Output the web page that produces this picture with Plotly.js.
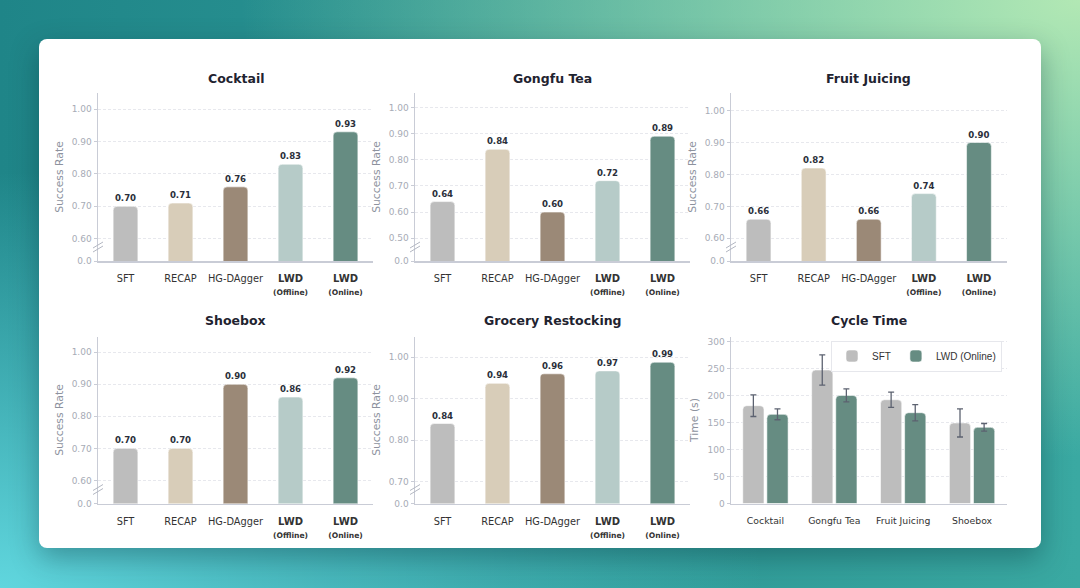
<!DOCTYPE html>
<html>
<head>
<meta charset="utf-8">
<script src="https://cdn.plot.ly/plotly-3.0.1.min.js"></script>
<style>
  html, body { margin: 0; padding: 0; }
  body {
    width: 1080px; height: 588px; overflow: hidden; position: relative;
    background:
      radial-gradient(ellipse at 100% 0%, rgba(178,232,180,1) 0%, rgba(178,232,180,0) 55%),
      radial-gradient(ellipse at 0% 100%, rgba(96,214,222,1) 0%, rgba(96,214,222,0) 50%),
      linear-gradient(90deg, #1f8588 0%, #3aa9a2 100%);
  }
  #card {
    position: absolute; left: 39px; top: 39px; width: 1002px; height: 509px;
    background: #fff; border-radius: 8px;
    box-shadow: 0 10px 28px rgba(0,40,50,0.35);
  }
  #chart { position: absolute; left: 0; top: 0; width: 1080px; height: 588px; }
</style>
</head>
<body>
<div id="card"></div>
<div id="chart"></div>
<script>
// success-rate panels
const methods = ['SFT', 'RECAP', 'HG-DAgger', 'LWD (Offline)', 'LWD (Online)'];
const cocktail = [0.70, 0.71, 0.76, 0.83, 0.93];
const gongfuTea = [0.64, 0.84, 0.60, 0.72, 0.89];
const fruitJuicing = [0.66, 0.82, 0.66, 0.74, 0.90];
const shoebox = [0.70, 0.70, 0.90, 0.86, 0.92];
const groceryRestocking = [0.84, 0.937, 0.96, 0.967, 0.988];

const ticks060 = [0.60, 0.70, 0.80, 0.90, 1.00];
const ticks050 = [0.50, 0.60, 0.70, 0.80, 0.90, 1.00];
const ticks070 = [0.70, 0.80, 0.90, 1.00];

// cycle time panel
const cycleTasks = ['Cocktail', 'Gongfu Tea', 'Fruit Juicing', 'Shoebox'];
const sftTime = [181, 247, 192, 149];
const sftTimeErr = [20, 28, 14, 26];
const lwdTime = [165, 200, 168, 141];
const lwdTimeErr = [10, 12, 15, 7];

const methodColors = ['#bdbdbd', '#d8cdb9', '#9b8977', '#b6cbc8', '#668c82'];

const methodTicks = methods.map(function (m) {
  const i = m.indexOf(' (');
  if (i < 0) return m;
  return '<span style="font-size:10px"><b>' + m.slice(0, i) + '</b></span><br>' +
         '<span style="font-size:7.6px"><b>' + m.slice(i + 1) + '</b></span>';
});

const FONT = 'DejaVu Sans, Verdana, sans-serif';
const W = 1080, H = 588;
const colX = [[98, 373], [415, 690], [731, 1006.5]];
const rowY = [[93, 261], [336.5, 503.5]];
const px = function (a) { return [a[0] / W, a[1] / W]; };
const py = function (a) { return [1 - a[1] / H, 1 - a[0] / H]; };

const panels = [
  { title: 'Cocktail', values: cocktail, ticks: ticks060, range: [0.531, 1.05], col: 0, row: 0 },
  { title: 'Gongfu Tea', values: gongfuTea, ticks: ticks050, range: [0.413, 1.055], col: 1, row: 0 },
  { title: 'Fruit Juicing', values: fruitJuicing, ticks: ticks060, range: [0.529, 1.055], col: 2, row: 0 },
  { title: 'Shoebox', values: shoebox, ticks: ticks060, range: [0.528, 1.049], col: 0, row: 1 },
  { title: 'Grocery Restocking', values: groceryRestocking, ticks: ticks070, range: [0.647, 1.05], col: 1, row: 1 }
];

const axisLine = '#c9ccd6';
const tickGray = '#a7abb6';
const titleGray = '#8d929e';

const data = [];
const layout = {
  width: W, height: H,
  margin: { l: 0, r: 0, t: 0, b: 0 },
  paper_bgcolor: 'rgba(0,0,0,0)',
  plot_bgcolor: 'rgba(0,0,0,0)',
  font: { family: FONT, color: '#333' },
  barmode: 'group',
  bargap: 0.3,
  bargroupgap: 0.12,
  annotations: [],
  shapes: [],
  showlegend: true,
  legend: {
    orientation: 'h', x: 1002 / W, xanchor: 'right', y: 1 - 340.5 / H, yanchor: 'top',
    bgcolor: '#fff', bordercolor: '#e6e7ec', borderwidth: 1,
    font: { size: 10, color: '#333', family: 'Liberation Sans, Arial, sans-serif' },
    itemwidth: 30
  }
};

function baseX(i, col, row, tickvals, ticktext, range) {
  return {
    domain: px(colX[col]), anchor: 'y' + i, range: range,
    tickmode: 'array', tickvals: tickvals, ticktext: ticktext,
    showline: true, linecolor: axisLine, linewidth: 1.5,
    ticks: '', ticklabelstandoff: 8, showgrid: false, zeroline: false,
    tickfont: { size: 9.8, color: '#333', family: FONT }, automargin: false
  };
}
function baseY(i, col, row) {
  return {
    domain: py(rowY[row]), anchor: 'x' + i,
    showline: true, linecolor: axisLine, linewidth: 1.5,
    ticks: 'outside', ticklen: 3, tickcolor: axisLine, tickwidth: 1,
    showgrid: true, gridcolor: '#e1e2e8', griddash: '3px,2px', gridwidth: 0.8,
    zeroline: false, tickfont: { size: 9, color: tickGray, family: FONT },
    automargin: false
  };
}
function addTitle(text, col, row) {
  layout.annotations.push({
    text: '<b>' + text + '</b>', xref: 'paper', yref: 'paper',
    x: (colX[col][0] + colX[col][1]) / 2 / W, y: 1 - (row === 0 ? 78 : 320) / H,
    xanchor: 'center', yanchor: 'middle', showarrow: false,
    font: { size: 12.5, color: '#1f2330', family: FONT }
  });
}

panels.forEach(function (p, k) {
  const i = k + 1;
  const xs = 'x' + i, ys = 'y' + i;
  data.push({
    type: 'bar', x: methods, y: p.values, xaxis: xs, yaxis: ys,
    width: 0.45, showlegend: false, cliponaxis: false,
    marker: { color: methodColors, cornerradius: 4, line: { width: 0.8, color: 'rgba(255,255,255,0.7)' } },
    texttemplate: '%{y:.2f}', textposition: 'outside',
    textfont: { size: 8.6, color: '#2b2f3a', family: FONT, weight: 'bold' },
    hoverinfo: 'skip'
  });
  layout['xaxis' + i] = baseX(i, p.col, p.row, methods, methodTicks, [-0.5, 4.5]);
  const ya = baseY(i, p.col, p.row);
  ya.range = p.range;
  ya.tickmode = 'array';
  ya.tickvals = [p.range[0]].concat(p.ticks);
  ya.ticktext = ['0.0'].concat(p.ticks.map(function (v) { return v.toFixed(2); }));
  ya.title = { text: 'Success Rate', standoff: 6, font: { size: 10.8, color: titleGray, family: FONT } };
  layout['yaxis' + i] = ya;
  addTitle(p.title, p.col, p.row);
  // axis break marks
  [[9, 15], [13, 19]].forEach(function (seg) {
    layout.shapes.push({
      type: 'line', xref: xs + ' domain', yref: ys + ' domain',
      xsizemode: 'pixel', ysizemode: 'pixel', xanchor: 0, yanchor: 0,
      x0: -5, x1: 5, y0: seg[0], y1: seg[1],
      line: { color: '#b3b7c2', width: 1 }
    });
  });
});

// cycle time
const errStyle = { color: '#5c6270', thickness: 1.3, width: 3 };
data.push({
  type: 'bar', name: 'SFT', x: cycleTasks, y: sftTime, xaxis: 'x6', yaxis: 'y6',
  error_y: Object.assign({ type: 'data', array: sftTimeErr, visible: true }, errStyle),
  marker: { color: '#bdbdbd', cornerradius: 4, line: { width: 0.8, color: 'rgba(255,255,255,0.7)' } },
  hoverinfo: 'skip'
});
data.push({
  type: 'bar', name: 'LWD (Online)', x: cycleTasks, y: lwdTime, xaxis: 'x6', yaxis: 'y6',
  error_y: Object.assign({ type: 'data', array: lwdTimeErr, visible: true }, errStyle),
  marker: { color: '#668c82', cornerradius: 4, line: { width: 0.8, color: 'rgba(255,255,255,0.7)' } },
  hoverinfo: 'skip'
});
layout.xaxis6 = baseX(6, 2, 1, cycleTasks, cycleTasks, [-0.5, 3.5]);
layout.xaxis6.tickfont.size = 9.3;
const y6 = baseY(6, 2, 1);
y6.range = [0, 309];
y6.tickmode = 'array';
y6.tickvals = [0, 50, 100, 150, 200, 250, 300];
y6.title = { text: 'Time (s)', standoff: 6, font: { size: 10.8, color: titleGray, family: FONT } };
layout.yaxis6 = y6;
addTitle('Cycle Time', 2, 1);

Plotly.newPlot('chart', data, layout, { displayModeBar: false, staticPlot: true });
</script>
</body>
</html>
